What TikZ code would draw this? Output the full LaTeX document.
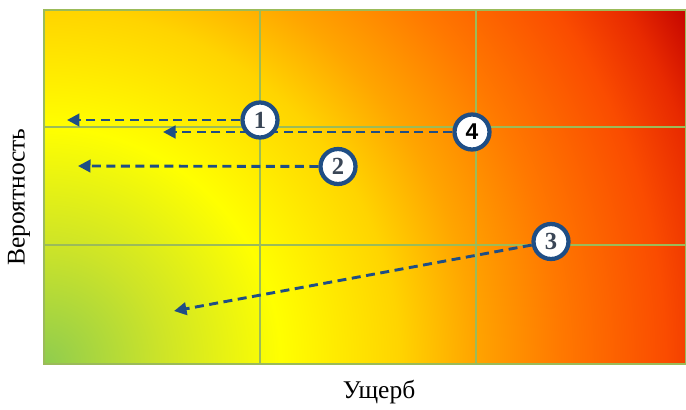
\documentclass[tikz,border=0pt]{standalone}
\usepackage{fontspec}
\setmainfont{Liberation Serif}
\newfontfamily\sansdigit{Liberation Sans}
\usepackage{xcolor}
\usepackage{tikz}
\usetikzlibrary{arrows.meta}
\definecolor{GridOlive}{HTML}{9BBB59}
\definecolor{RiskBlue}{HTML}{1F4E85}
\definecolor{DigitSlate}{HTML}{3A4656}
\definecolor{FieldA}{HTML}{8FCC4F}
\definecolor{FieldB}{HTML}{CDE428}
\definecolor{FieldC}{HTML}{FFFF00}
\definecolor{FieldD}{HTML}{FFD400}
\definecolor{FieldE}{HTML}{FFA500}
\definecolor{FieldF}{HTML}{FF7800}
\definecolor{FieldG}{HTML}{FA4C00}
\definecolor{FieldH}{HTML}{E82A00}
\definecolor{FieldI}{HTML}{C00000}

% radial colour field from the low-risk corner
\pgfdeclareradialshading{riskfield}{\pgfpoint{0bp}{0bp}}{%
  color(0bp)=(FieldA);
  color(4bp)=(FieldB);
  color(8bp)=(FieldC);
  color(12bp)=(FieldD);
  color(14.5bp)=(FieldE);
  color(17.5bp)=(FieldF);
  color(21bp)=(FieldG);
  color(23bp)=(FieldH);
  color(25bp)=(FieldI);
  color(50bp)=(FieldI)}

\pgfdeclarelayer{field}
\pgfdeclarelayer{links}
\pgfsetlayers{field,links,main}

\begin{document}
\begin{tikzpicture}[x=0.02cm, y=-0.02cm,
    riskcirc/.style={circle, draw=RiskBlue, line width=0.085cm, fill=white,
                     minimum size=0.7cm, inner sep=0pt, font=\fontsize{14}{14}\selectfont\bfseries},
    riskarrow/.style={RiskBlue, line width=0.058cm, dash pattern=on 0.18cm off 0.11cm,
                      -{Triangle[length=0.25cm, width=0.25cm]}},
    gridline/.style={GridOlive, line width=0.03cm},
    axislabel/.style={font=\fontsize{14.5}{16}\selectfont}]

    \useasboundingbox (0,0) rectangle (686,409);

    \begin{pgfonlayer}{field}
      \begin{scope}
        \clip (44,10) rectangle (686,364);
        \shade[shading=riskfield] (44,364) circle[radius=14.8cm];
      \end{scope}
      \draw[gridline] (260,10) -- (260,364);
      \draw[gridline] (476,10) -- (476,364);
      \draw[gridline] (44,127) -- (686,127);
      \draw[gridline] (44,245) -- (686,245);
      \draw[gridline] (44,10) rectangle (686,364);
    \end{pgfonlayer}

    \coordinate (end1) at (67,120);
    \coordinate (end2) at (78,166);
    \coordinate (end3) at (174,311);
    \coordinate (end4) at (163,132);

    \node[riskcirc, text=DigitSlate] (risk1) at (260,120)   {1};
    \node[riskcirc, text=DigitSlate] (risk2) at (338,166.5) {2};
    \node[riskcirc, text=DigitSlate] (risk3) at (551,241.5) {3};
    \node[riskcirc, font=\fontsize{13}{13}\sansdigit\bfseries] (risk4) at (472,132) {4};

    \begin{pgfonlayer}{links}
      \draw[riskarrow] (risk1) -- (end1);
      \draw[riskarrow] (risk2) -- (end2);
      \draw[riskarrow] (risk3) -- (end3);
      \draw[riskarrow] (risk4) -- (end4);
    \end{pgfonlayer}

    \node[axislabel] (xlab) at (379,392) {Ущерб};
    \node[axislabel, rotate=90] (ylab) at (19,197) {Вероятность};
\end{tikzpicture}
\end{document}
